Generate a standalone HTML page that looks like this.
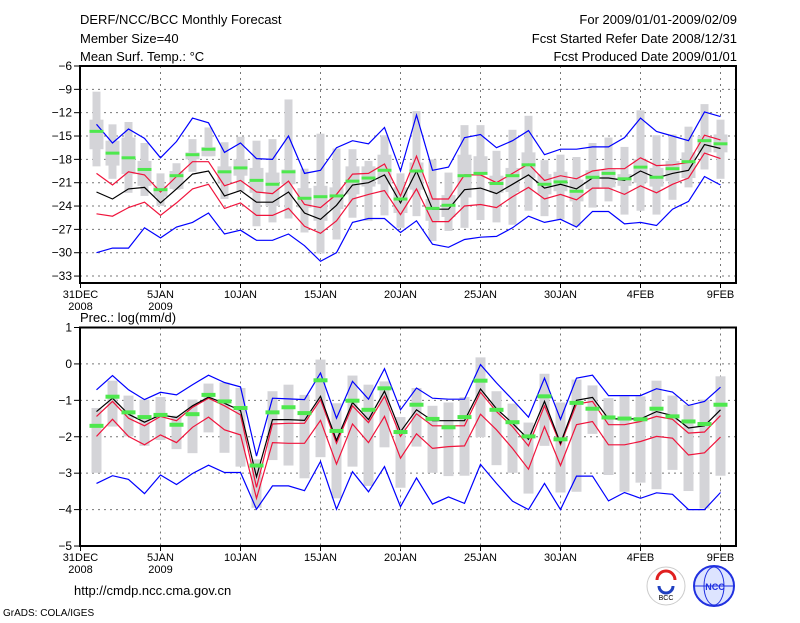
<!DOCTYPE html>
<html><head><meta charset="utf-8"><style>
body{margin:0;background:#fff;}
svg text{font-family:"Liberation Sans",sans-serif;fill:#000;}
</style></head><body>
<svg id="c" width="800" height="618" viewBox="0 0 800 618" xmlns="http://www.w3.org/2000/svg">
<g font-size="13">
<text x="80" y="24">DERF/NCC/BCC Monthly Forecast</text>
<text x="80" y="43">Member Size=40</text>
<text x="80" y="61">Mean Surf. Temp.: °C</text>
<text x="737" y="24" text-anchor="end">For 2009/01/01-2009/02/09</text>
<text x="737" y="43" text-anchor="end">Fcst Started Refer Date 2008/12/31</text>
<text x="737" y="61" text-anchor="end">Fcst Produced Date 2009/01/01</text>
<text x="80" y="322">Prec.: log(mm/d)</text>
<text x="74" y="595">http://cmdp.ncc.cma.gov.cn</text>
<text x="3" y="616" font-size="10">GrADS: COLA/IGES</text>
</g>
<g>
<circle cx="666" cy="586" r="19" fill="#fff" stroke="#ccc"/>
<path d="M657 580 a9 9 0 1 1 18 0" fill="none" stroke="#e02020" stroke-width="3"/>
<path d="M659 586 a7 7 0 0 0 14 0" fill="none" stroke="#2040c0" stroke-width="3"/>
<text x="666" y="600" font-size="7" text-anchor="middle">BCC</text>
<circle cx="714" cy="586" r="20" fill="#dde4ff" stroke="#2030e0" stroke-width="2"/>
<ellipse cx="714" cy="586" rx="10" ry="19" fill="none" stroke="#2030e0"/>
<line x1="695" y1="586" x2="733" y2="586" stroke="#2030e0"/>
<text x="715" y="590" font-size="9" font-weight="bold" fill="#2030e0" text-anchor="middle" style="fill:#2030e0">NCC</text>
</g>
<g id="top"></g>
<g id="bot"></g>
</svg>
<script>
// ---- Temperature panel data (days 1..40) ----
const tMean=[-22.2,-23.1,-21.8,-21.6,-23.6,-21.8,-19.9,-19.5,-22.7,-22.0,-23.5,-23.5,-22.2,-24.9,-25.7,-23.9,-21.3,-21.0,-20.0,-23.6,-19.5,-24.4,-24.4,-21.9,-21.7,-22.4,-21.2,-20.0,-21.7,-21.2,-21.8,-20.4,-20.4,-20.7,-19.5,-20.4,-19.8,-19.4,-16.1,-16.6];
const tRedHi=[-19.8,-21.3,-19.6,-20.0,-22.2,-20.2,-18.3,-18.3,-21.4,-20.7,-22.2,-22.4,-20.8,-23.8,-24.2,-22.5,-19.9,-19.8,-18.6,-22.7,-17.6,-23.1,-23.1,-20.0,-20.0,-21.0,-19.8,-18.6,-20.7,-20.1,-20.5,-19.5,-19.2,-19.2,-17.8,-18.8,-18.7,-18.4,-14.9,-15.5];
const tRedLo=[-25.0,-25.3,-24.2,-23.5,-25.2,-23.6,-21.8,-21.2,-24.3,-23.6,-25.2,-25.2,-24.3,-26.6,-27.5,-25.9,-23.1,-22.5,-22.0,-25.1,-21.8,-26.0,-26.0,-24.0,-23.8,-24.2,-22.8,-21.6,-23.1,-22.5,-23.2,-21.7,-21.7,-22.5,-21.4,-22.3,-21.2,-20.4,-17.2,-17.9];
const tBlueHi=[-13.5,-15.9,-14.1,-15.3,-17.8,-15.7,-12.7,-13.3,-17.1,-15.9,-17.9,-18.0,-15.0,-19.8,-19.4,-16.5,-15.6,-16.0,-13.9,-19.5,-12.3,-19.4,-19.0,-15.2,-14.8,-16.5,-15.6,-14.3,-17.4,-16.7,-16.7,-16.4,-16.4,-15.2,-12.7,-14.4,-15.0,-15.6,-11.9,-12.5];
const tBlueLo=[-30.0,-29.4,-29.4,-26.8,-28.1,-26.7,-26.1,-24.9,-27.6,-27.1,-28.4,-28.4,-27.6,-29.1,-31.1,-30.0,-26.1,-25.6,-25.6,-27.4,-25.9,-28.9,-29.3,-28.3,-28.0,-27.9,-26.8,-25.3,-26.1,-25.7,-26.7,-24.7,-24.7,-26.3,-26.1,-26.5,-24.4,-23.4,-20.2,-21.3];
const tGreen=[-14.4,-17.2,-17.8,-19.3,-21.9,-20.1,-17.4,-16.7,-19.6,-19.1,-20.7,-21.2,-19.6,-23.0,-22.8,-22.7,-20.8,-20.4,-19.4,-23.1,-19.5,-24.3,-23.9,-20.1,-19.8,-21.1,-20.1,-18.7,-21.2,-20.9,-22.1,-20.3,-19.8,-20.5,-19.0,-20.3,-19.2,-18.3,-15.6,-16.0];
const tMax=[-9.3,-13.5,-13.2,-15.9,-19.8,-18.5,-15.4,-13.9,-15.8,-15.1,-15.6,-15.4,-10.3,-19.2,-14.7,-16.6,-16.7,-18.2,-14.9,-19.8,-11.8,-18.0,-19.7,-13.6,-13.6,-16.9,-14.2,-12.4,-18.1,-17.4,-17.7,-15.9,-15.2,-16.4,-11.7,-14.9,-14.8,-13.8,-10.9,-12.9];
const tMin=[-18.9,-20.5,-22.3,-22.7,-24.0,-21.9,-19.6,-17.6,-23.1,-22.1,-26.6,-26.1,-25.6,-27.4,-30.1,-28.3,-25.5,-25.9,-25.2,-26.8,-25.3,-28.5,-27.2,-26.8,-25.8,-26.1,-26.4,-24.6,-25.3,-25.7,-26.6,-24.2,-23.4,-25.1,-24.6,-25.1,-23.2,-21.6,-19.3,-20.5];
const tQ3=[-12.9,-15.6,-15.2,-18.2,-21.4,-19.5,-17.1,-16.4,-18.9,-18.0,-19.1,-19.7,-19.3,-21.7,-21.4,-21.6,-18.9,-18.9,-17.4,-21.6,-18.4,-23.1,-22.6,-17.4,-17.6,-20.1,-19.1,-17.1,-19.9,-19.6,-20.6,-19.4,-19.3,-19.9,-18.0,-19.1,-18.2,-17.1,-15.0,-14.8];
const tQ1=[-16.7,-18.8,-19.9,-21.4,-22.8,-21.8,-18.0,-17.6,-21.0,-20.1,-22.3,-24.0,-21.2,-24.2,-25.9,-24.4,-22.5,-21.5,-21.2,-24.9,-21.9,-25.9,-25.4,-22.9,-19.9,-22.3,-22.2,-20.4,-22.5,-22.1,-23.4,-21.8,-21.6,-21.4,-21.0,-21.5,-20.8,-20.4,-17.1,-17.1];
const tTicks=[-6,-9,-12,-15,-18,-21,-24,-27,-30,-33];
// ---- Precipitation panel data ----
const pMean=[-1.31,-0.94,-1.38,-1.60,-1.40,-1.47,-1.15,-0.91,-1.08,-1.28,-3.10,-1.53,-1.53,-1.55,-0.89,-2.10,-1.06,-1.53,-0.75,-1.86,-1.26,-1.56,-1.56,-1.56,-0.69,-1.23,-1.63,-2.07,-1.03,-2.18,-1.00,-0.92,-1.51,-1.51,-1.51,-1.31,-1.42,-1.76,-1.70,-1.26];
const pRedHi=[-1.44,-1.03,-1.49,-1.70,-1.44,-1.56,-1.19,-0.94,-1.15,-1.40,-3.39,-1.65,-1.63,-1.63,-0.98,-2.18,-1.15,-1.61,-0.89,-1.99,-1.37,-1.70,-1.70,-1.70,-0.78,-1.31,-1.72,-2.25,-1.15,-2.22,-1.10,-1.03,-1.67,-1.67,-1.58,-1.44,-1.52,-1.90,-1.87,-1.42];
const pRedLo=[-1.99,-1.52,-1.99,-2.22,-1.95,-2.16,-1.74,-1.46,-1.81,-1.95,-3.69,-2.16,-2.18,-2.18,-1.55,-2.75,-1.65,-2.16,-1.44,-2.59,-1.92,-2.32,-2.27,-2.25,-1.38,-1.81,-2.32,-2.89,-1.72,-2.79,-1.67,-1.58,-2.22,-2.22,-2.13,-1.99,-2.04,-2.50,-2.44,-2.01];
const pBlueHi=[-0.71,-0.32,-0.71,-0.98,-0.78,-0.85,-0.57,-0.31,-0.51,-0.63,-2.53,-0.94,-0.96,-0.98,-0.25,-1.49,-0.48,-0.97,-0.13,-1.26,-0.66,-0.94,-0.97,-0.97,-0.02,-0.52,-0.98,-1.46,-0.39,-1.52,-0.39,-0.31,-0.87,-0.87,-0.87,-0.68,-0.77,-1.14,-1.03,-0.64];
const pBlueLo=[-3.28,-3.07,-3.17,-3.56,-3.05,-3.31,-3.01,-2.78,-2.98,-2.98,-3.99,-3.35,-3.35,-3.48,-2.68,-3.99,-2.96,-3.51,-2.82,-3.92,-3.13,-3.85,-3.65,-3.83,-2.76,-3.28,-3.77,-4.00,-3.28,-4.00,-3.08,-3.08,-3.76,-3.53,-3.69,-3.54,-3.58,-4.00,-4.00,-3.53];
const pGreen=[-1.70,-0.90,-1.33,-1.46,-1.40,-1.67,-1.38,-0.85,-1.03,-1.21,-2.79,-1.33,-1.19,-1.35,-0.45,-1.84,-1.01,-1.26,-0.67,-1.87,-1.12,-1.51,-1.74,-1.46,-0.46,-1.26,-1.60,-1.99,-0.89,-2.07,-1.07,-1.23,-1.47,-1.50,-1.52,-1.23,-1.44,-1.58,-1.65,-1.12];
const pMax=[-1.21,-0.46,-0.87,-0.98,-0.91,-1.42,-0.98,-0.54,-0.51,-0.66,-2.62,-0.75,-0.57,-0.85,0.12,-1.08,-0.32,-0.57,-0.48,-1.46,-0.66,-1.15,-1.06,-0.91,0.18,-0.75,-1.09,-1.61,-0.27,-1.06,-0.43,-0.59,-0.94,-0.89,-0.89,-0.46,-0.87,-1.12,-0.98,-0.34];
const pMin=[-2.99,-1.72,-1.99,-2.25,-2.09,-2.34,-2.45,-1.88,-2.44,-2.82,-3.95,-2.64,-2.79,-3.14,-2.56,-3.69,-2.82,-3.35,-2.29,-3.40,-2.27,-2.99,-3.08,-3.07,-2.01,-2.78,-2.99,-3.56,-2.25,-3.53,-3.51,-1.92,-3.05,-3.51,-3.26,-3.44,-2.91,-3.49,-3.97,-3.07];
const pTicks=[1,0,-1,-2,-3,-4,-5];
const xTickDays=[0,5,10,15,20,25,30,35,40];
const xTickLabels=["31DEC","5JAN","10JAN","15JAN","20JAN","25JAN","30JAN","4FEB","9FEB"];
const xTickYears=["2008","2009","","","","","","",""];

const NS="http://www.w3.org/2000/svg";
const X0=80.5,DX=16,XL=80,XR=736;
const xS=d=>X0+d*DX;
function mk(p,tag,at){const e=document.createElementNS(NS,tag);for(const k in at)e.setAttribute(k,at[k]);p.appendChild(e);return e;}

function panel(g,yS,top,bot,ticks,prefix,boxes,series,green){
  // grid
  for(const d of xTickDays){
    const l=mk(g,'line',{x1:xS(d),x2:xS(d),y1:top,y2:bot,stroke:'#777','stroke-dasharray':'2,4','stroke-width':1});
    
    
  }
  for(const v of ticks){
    const l=mk(g,'line',{x1:XL,x2:XR,y1:yS(v),y2:yS(v),stroke:'#777','stroke-dasharray':'2,4','stroke-width':1});
    
    
  }
  boxes();
  for(const s of series){
    const pts=s.d.map((v,i)=>xS(i+1).toFixed(1)+','+yS(v).toFixed(1)).join(' ');
    const pl=mk(g,'polyline',{points:pts,fill:'none',stroke:s.c,'stroke-width':1.2});
    
    
  }
  green.d.forEach((v,i)=>{
    const r=mk(g,'rect',{x:xS(i+1)-7,y:yS(v)-green.h/2,width:14,height:green.h,fill:'#4ee84e'});
    
    
  });
  const f=mk(g,'rect',{x:XL,y:top,width:XR-XL,height:bot-top,fill:'none',stroke:'#000','stroke-width':2});
  
  
  for(const v of ticks){
    mk(g,'line',{x1:XL-6,x2:XL,y1:yS(v),y2:yS(v),stroke:'#000'});
    const t=mk(g,'text',{x:XL-8,y:yS(v)+4,'text-anchor':'end','font-size':12});
    t.textContent=String(v).replace('-','\u2212');
    
    
  }
  xTickDays.forEach((d,i)=>{
    mk(g,'line',{x1:xS(d),x2:xS(d),y1:bot,y2:bot+5,stroke:'#000'});
    const t=mk(g,'text',{x:xS(d),y:bot+15,'text-anchor':'middle','font-size':11});
    t.textContent=xTickLabels[i];
    
    
    if(xTickYears[i]){
      const y=mk(g,'text',{x:xS(d),y:bot+27,'text-anchor':'middle','font-size':11});
      y.textContent=xTickYears[i];
      
      
    }
  });
}
const gT=document.getElementById('top');
const yT=v=>66+(-6-v)*7.78;
panel(gT,yT,66,283,tTicks,'temp',()=>{
  tMax.forEach((v,i)=>{
    const r=mk(gT,'rect',{x:xS(i+1)-4,y:yT(v),width:8,height:yT(tMin[i])-yT(v),fill:'#d4d4d8'});
    
    
    const b=mk(gT,'rect',{x:xS(i+1)-7,y:yT(tQ3[i]),width:14,height:yT(tQ1[i])-yT(tQ3[i]),fill:'#d4d4d8'});
    
    
  });
},[{d:tBlueHi,c:'#0000ff',n:'blue-upper-line'},{d:tBlueLo,c:'#0000ff',n:'blue-lower-line'},{d:tRedHi,c:'#f0143c',n:'red-upper-line'},{d:tRedLo,c:'#f0143c',n:'red-lower-line'},{d:tMean,c:'#000',n:'mean-line'}],{d:tGreen,h:3});

const gB=document.getElementById('bot');
const yB=v=>327.5+(1-v)*36.42;
panel(gB,yB,327.5,546,pTicks,'prec',()=>{
  pMax.forEach((v,i)=>{
    const r=mk(gB,'rect',{x:xS(i+1)-5,y:yB(v),width:10,height:yB(pMin[i])-yB(v),fill:'#d4d4d8'});
    
    
  });
},[{d:pBlueHi,c:'#0000ff',n:'blue-upper-line'},{d:pBlueLo,c:'#0000ff',n:'blue-lower-line'},{d:pRedHi,c:'#f0143c',n:'red-upper-line'},{d:pRedLo,c:'#f0143c',n:'red-lower-line'},{d:pMean,c:'#000',n:'mean-line'}],{d:pGreen,h:4});
</script>
</body></html>
